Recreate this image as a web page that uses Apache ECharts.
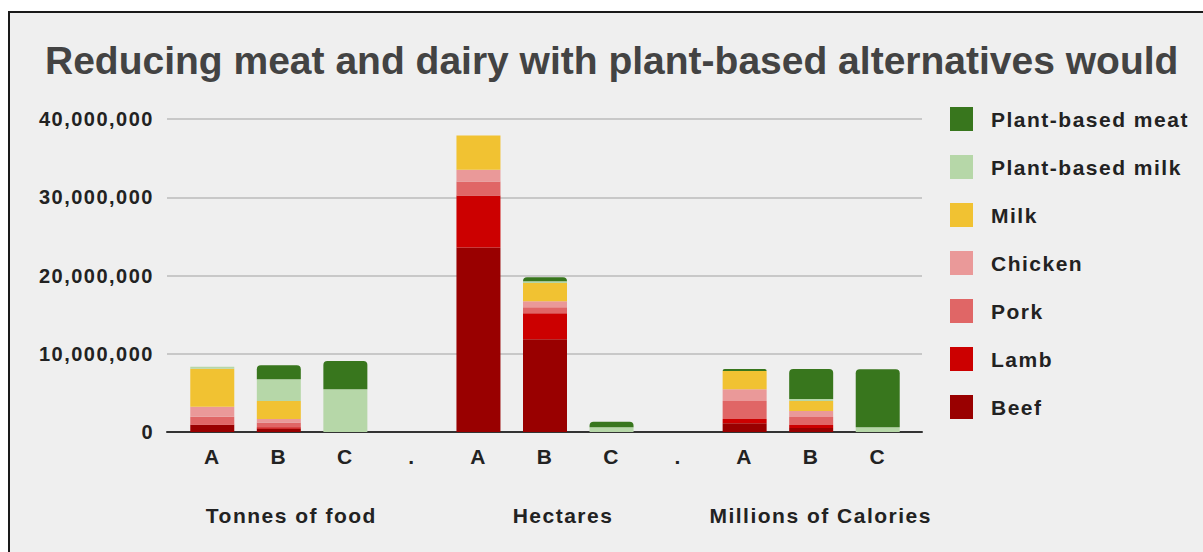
<!DOCTYPE html>
<html>
<head>
<meta charset="utf-8">
<script src="https://cdn.jsdelivr.net/npm/echarts@6/dist/echarts.min.js"></script>
<style>
  html, body { margin: 0; padding: 0; background: #ffffff; }
  #wrap { position: relative; width: 1203px; height: 552px; overflow: hidden; }
  #frame {
    position: absolute; left: 8px; top: 11px; width: 1300px; height: 700px;
    border-left: 2px solid #1a1a1a; border-top: 2px solid #1a1a1a; background: #efefef;
  }
  #chart { position: absolute; left: 0; top: 0; width: 1203px; height: 552px; }
</style>
</head>
<body>
<div id="wrap"><div id="frame"></div><div id="chart"></div></div>
<script>
// Scenario columns; "." entries are empty spacer columns between the measures
const categories = ['A', 'B', 'C', '.', 'A', 'B', 'C', '.', 'A', 'B', 'C'];
const groupLabels = ['Tonnes of food', 'Hectares', 'Millions of Calories'];
const yTicks = [0, 10000000, 20000000, 30000000, 40000000];

// Stacked values, bottom to top
const beef          = [900000, 400000, 0, null, 23570000, 11850000, 0, null, 1110000, 510000, 0];
const lamb          = [50000, 200000, 0, null, 6650000, 3320000, 0, null, 550000, 380000, 0];
const pork          = [1000000, 600000, 0, null, 1790000, 770000, 0, null, 2300000, 1020000, 0];
const chicken       = [1280000, 470000, 0, null, 1500000, 770000, 0, null, 1500000, 770000, 0];
const milk          = [4860000, 2300000, 0, null, 4390000, 2340000, 0, null, 2340000, 1280000, 0];
const plantMilk     = [260000, 2780000, 5460000, null, 0, 220000, 600000, null, 0, 260000, 600000];
const plantMeat     = [0, 1790000, 3620000, null, 0, 510000, 720000, null, 260000, 3840000, 7420000];

const stackOrder = [
  ['Beef', beef],
  ['Lamb', lamb],
  ['Pork', pork],
  ['Chicken', chicken],
  ['Milk', milk],
  ['Plant-based milk', plantMilk],
  ['Plant-based meat', plantMeat]
];

const palette = {
  'Beef': '#990000',
  'Lamb': '#cc0000',
  'Pork': '#e06666',
  'Chicken': '#ea9999',
  'Milk': '#f1c232',
  'Plant-based milk': '#b6d7a8',
  'Plant-based meat': '#38761d'
};

const FONT = "'Liberation Sans', Arial, sans-serif";
const yMin = yTicks[0];
const yMax = yTicks[yTicks.length - 1];
const yStep = yTicks[1] - yTicks[0];

const groupText = { fontFamily: FONT, fontSize: 21, fontWeight: 'bold', color: '#222222' };

const chart = echarts.init(document.getElementById('chart'), null, { renderer: 'svg' });

chart.setOption({
  animation: false,
  backgroundColor: 'transparent',
  title: {
    text: 'Reducing meat and dairy with plant-based alternatives would',
    left: 40,
    top: 36,
    textStyle: { fontFamily: FONT, fontSize: 39, fontWeight: 'bold', color: '#434343' }
  },
  legend: {
    orient: 'vertical',
    left: 945,
    top: 102,
    itemWidth: 23,
    itemHeight: 24,
    itemGap: 24,
    icon: 'rect',
    data: stackOrder.map(s => s[0]).reverse(),
    formatter: name => '{t|' + name + '}',
    textStyle: {
      rich: {
        t: { fontFamily: FONT, fontSize: 21, fontWeight: 'bold', color: '#222222', padding: [0, 0, 0, 13] }
      }
    }
  },
  grid: [
    // value axis, gridlines and baseline
    { left: 167, right: 281, top: 119, bottom: 120 },
    // the bars
    { left: 179, right: 292, top: 119, bottom: 120 },
    // measure names beneath the scenario letters
    { left: 159, right: 250, top: 119, bottom: 120 }
  ],
  xAxis: [
    {
      gridIndex: 0, type: 'category', data: [''],
      axisLine: { show: true, lineStyle: { color: '#333333', width: 2 } },
      axisTick: { show: false }, axisLabel: { show: false }, splitLine: { show: false }
    },
    {
      gridIndex: 1, type: 'category', data: categories,
      axisLine: { show: false }, axisTick: { show: false },
      axisLabel: { margin: 14, fontFamily: FONT, fontSize: 21, fontWeight: 'bold', color: '#222222' }
    },
    {
      gridIndex: 2, type: 'category', data: groupLabels,
      axisLine: { show: false }, axisTick: { show: false },
      axisLabel: {
        margin: 73,
        formatter: (v, i) => (i === 1 ? '{m|' : '{g|') + v + '}',
        rich: {
          g: groupText,
          m: Object.assign({ padding: [0, 0, 0, 14] }, groupText)
        }
      }
    }
  ],
  yAxis: [
    {
      gridIndex: 0, type: 'value', min: yMin, max: yMax, interval: yStep,
      axisLine: { show: false }, axisTick: { show: false },
      axisLabel: {
        margin: 13, fontFamily: FONT, fontSize: 20, fontWeight: 'bold', color: '#222222',
        formatter: v => v.toLocaleString('en-US')
      },
      splitLine: { show: true, lineStyle: { color: '#c8c8c8', width: 2 } }
    },
    { gridIndex: 1, type: 'value', min: yMin, max: yMax, interval: yStep, show: false },
    { gridIndex: 2, type: 'value', min: yMin, max: yMax, interval: yStep, show: false }
  ],
  series: stackOrder.map(([name, values]) => ({
    name: name,
    type: 'bar',
    stack: 'total',
    xAxisIndex: 1,
    yAxisIndex: 1,
    barWidth: 44,
    data: values,
    itemStyle: {
      color: palette[name],
      borderRadius: name === 'Plant-based meat' ? [4, 4, 0, 0] : 0
    }
  }))
});

// Slightly open tracking on the smaller labels
function spaceLabels() {
  document.querySelectorAll('#chart text').forEach(el => {
    const size = parseFloat(getComputedStyle(el).fontSize) || 0;
    el.style.letterSpacing = size < 30 ? '1.5px' : '0px';
  });
}
chart.on('finished', spaceLabels);
requestAnimationFrame(spaceLabels);
</script>
</body>
</html>
